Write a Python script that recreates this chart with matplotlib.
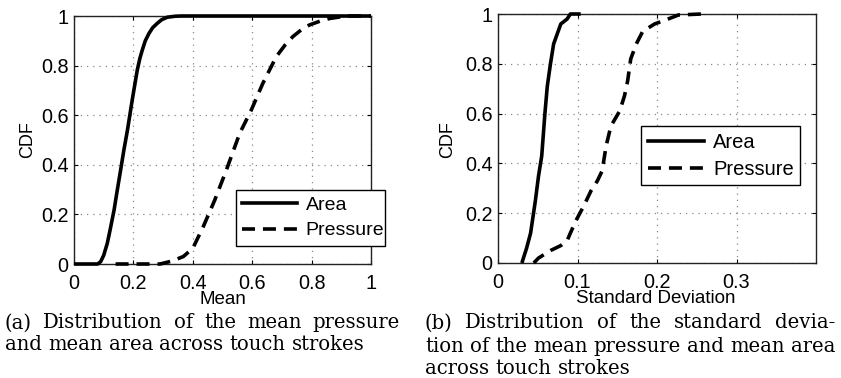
import matplotlib
matplotlib.use("Agg")
import matplotlib.pyplot as plt
from matplotlib.lines import Line2D

# ---------------- data ----------------
mean_area_x = [0.0, 0.08, 0.09, 0.10, 0.112, 0.122, 0.135, 0.146, 0.157, 0.168, 0.18, 0.196, 0.205,
               0.213, 0.222, 0.23, 0.24, 0.2525, 0.265, 0.28, 0.295, 0.314, 0.34, 0.36, 1.0]
mean_area_y = [0.0, 0.0, 0.01, 0.035, 0.083, 0.14, 0.218, 0.30, 0.379, 0.46, 0.54, 0.661, 0.725,
               0.782, 0.83, 0.863, 0.90, 0.93, 0.953, 0.97, 0.985, 0.995, 0.999, 1.0, 1.0]
mean_pres_x = [0.14, 0.29, 0.33, 0.368, 0.40, 0.435, 0.474, 0.513, 0.558, 0.597, 0.636, 0.681, 0.71,
               0.737, 0.765, 0.793, 0.83, 0.861, 0.90, 0.93, 1.0]
mean_pres_y = [0.0, 0.0, 0.012, 0.03, 0.063, 0.15, 0.258, 0.379, 0.527, 0.621, 0.729, 0.836, 0.882,
               0.917, 0.944, 0.964, 0.98, 0.99, 0.997, 1.0, 1.0]

std_area_x = [0.030, 0.036, 0.041, 0.047, 0.051, 0.055, 0.059, 0.062, 0.066, 0.070, 0.079, 0.087, 0.091, 0.104]
std_area_y = [0.0, 0.06, 0.12, 0.25, 0.35, 0.43, 0.60, 0.71, 0.80, 0.88, 0.96, 0.98, 1.0, 1.0]
std_pres_x = [0.045, 0.051, 0.066, 0.079, 0.087, 0.091, 0.098, 0.108, 0.117, 0.125, 0.131, 0.136, 0.142,
              0.153, 0.159, 0.163, 0.167, 0.174, 0.182, 0.197, 0.214, 0.227, 0.256]
std_pres_y = [0.0, 0.02, 0.05, 0.07, 0.09, 0.12, 0.17, 0.23, 0.29, 0.33, 0.37, 0.47, 0.55,
              0.61, 0.67, 0.73, 0.82, 0.88, 0.93, 0.96, 0.98, 0.996, 1.0]

series_labels = ["Area", "Pressure"]
left_xticks = [0, 0.2, 0.4, 0.6, 0.8, 1]
left_xticklabels = ["0", "0.2", "0.4", "0.6", "0.8", "1"]
right_xticks = [0, 0.1, 0.2, 0.3]
right_xticklabels = ["0", "0.1", "0.2", "0.3"]
yticks = [0, 0.2, 0.4, 0.6, 0.8, 1]
yticklabels = ["0", "0.2", "0.4", "0.6", "0.8", "1"]

caption_a = ["(a) Distribution of the mean pressure", "and mean area across touch strokes"]
caption_b = ["(b) Distribution of the standard devia-", "tion of the mean pressure and mean area",
             "across touch strokes"]

# ---------------- figure ----------------
W, H = 841, 378
fig = plt.figure(figsize=(W / 100, H / 100), dpi=100)
SANS = "Liberation Sans"
SERIF = "DejaVu Serif"


def fx(px):
    return px / W


def fy(py):
    return 1 - py / H


def make_axes(l, t, r, b):
    return fig.add_axes([fx(l), fy(b), fx(r) - fx(l), fy(t) - fy(b)])


axL = make_axes(74, 16, 371, 264)
axR = make_axes(498, 14, 816, 263)

dash = (3.6, 2.2)
LW = 2.6

for ax, ax_x, ax_y, ap_x, ap_y in [
    (axL, mean_area_x, mean_area_y, mean_pres_x, mean_pres_y),
    (axR, std_area_x, std_area_y, std_pres_x, std_pres_y),
]:
    ax.plot(ax_x, ax_y, color="black", lw=LW, solid_capstyle="butt", solid_joinstyle="round",
            zorder=3, clip_on=False)
    ax.plot(ap_x, ap_y, color="black", lw=LW, linestyle=(0, dash), dash_capstyle="butt", zorder=3,
            clip_on=False)
    ax.set_ylim(0, 1)
    ax.set_yticks(yticks)
    ax.set_yticklabels(yticklabels)
    ax.grid(True, color="#8a8a8a", linestyle=(0, (1, 4)), lw=0.9)
    ax.tick_params(direction="in", length=3, width=0.8, top=True, right=True,
                   labelsize=14.3, colors="black")
    ax.tick_params(axis="x", pad=7)
    ax.tick_params(axis="y", pad=4)
    for lab in ax.get_xticklabels() + ax.get_yticklabels():
        lab.set_fontfamily(SANS)
    for s in ax.spines.values():
        s.set_linewidth(1.0)
        s.set_color("#222222")
    ax.set_ylabel("CDF", fontsize=13, family=SANS)

axL.set_xlim(0, 1)
axL.set_xticks(left_xticks)
axL.set_xticklabels(left_xticklabels, family=SANS)
axL.set_xlabel("Mean", fontsize=13.5, family=SANS)
axR.set_xlim(0, 0.4)
axR.set_xticks(right_xticks)
axR.set_xticklabels(right_xticklabels, family=SANS)
axR.set_xlabel("Standard Deviation", fontsize=13.5, family=SANS)

axL.xaxis.set_label_coords(0.502, -0.108)
axR.xaxis.set_label_coords(0.497, -0.108)
axL.yaxis.set_label_coords(-0.128, 0.5)
axR.yaxis.set_label_coords(-0.133, 0.494)

handles = [Line2D([], [], color="black", lw=LW),
           Line2D([], [], color="black", lw=LW, linestyle=(0, dash), dash_capstyle="butt")]

for ax, (l, t, r, b), fs in [(axL, (236, 190, 385, 244), 14), (axR, (641, 126, 800, 180), 14.5)]:
    leg = ax.legend(handles, series_labels, loc="upper left",
                    bbox_to_anchor=(fx(l), fy(b), fx(r) - fx(l), fy(t) - fy(b)),
                    bbox_transform=fig.transFigure, mode="expand", borderaxespad=0,
                    fancybox=False, framealpha=1, edgecolor="black",
                    prop={"family": SANS, "size": fs}, handlelength=2.8, handletextpad=0.45,
                    labelspacing=0.4, borderpad=0.33)
    leg.get_frame().set_linewidth(1.0)
    leg.set_zorder(5)
    leg.set_clip_on(False)

# ---------------- captions (justified) ----------------
renderer = fig.canvas.get_renderer()
CAP_FS = 14.1


def word_width(w):
    t = fig.text(0, 0, w, fontsize=CAP_FS, family=SERIF)
    bb = t.get_window_extent(renderer)
    t.remove()
    return bb.width


space_w = word_width("a b") - word_width("ab")


def caption_line(text, x0, x1, yc, justify):
    words = text.split(" ")
    widths = [word_width(w) for w in words]
    if justify and len(words) > 1:
        gap = (x1 - x0 - sum(widths)) / (len(words) - 1)
    else:
        gap = space_w
    x = x0
    for w, wd in zip(words, widths):
        fig.text(fx(x), fy(yc), w, fontsize=CAP_FS, family=SERIF, ha="left", va="center_baseline")
        x += wd + gap


caption_line(caption_a[0], 5, 400, 321, True)
caption_line(caption_a[1], 5, 400, 343, False)
caption_line(caption_b[0], 425, 835, 321, True)
caption_line(caption_b[1], 425, 835, 344, True)
caption_line(caption_b[2], 425, 835, 366, False)

fig.savefig("out.png", dpi=100)
